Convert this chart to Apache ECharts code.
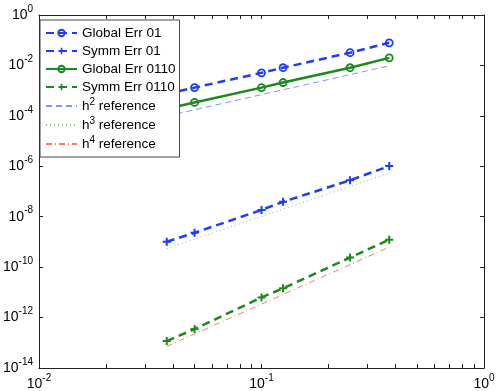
<!DOCTYPE html>
<html>
<head>
<meta charset="utf-8">
<script src="https://cdn.jsdelivr.net/npm/echarts@6/dist/echarts.min.js"></script>
<style>
  html, body { margin: 0; padding: 0; background: #fff; }
  #chart { width: 498px; height: 391px; }
</style>
</head>
<body>
<div id="chart"></div>
<script>
// mesh sizes and errors
var hValues = [0.0375, 0.05, 0.1, 0.125, 0.25, 0.375];
var globalErr01 = [7.4e-4, 1.32e-3, 5.1e-3, 8.1e-3, 0.032, 0.079];
var symmErr01 = [1.02e-9, 2.3e-9, 1.86e-8, 3.9e-8, 2.8e-7, 1.02e-6];
var globalErr0110 = [1.9e-4, 3.4e-4, 1.32e-3, 2.1e-3, 8.1e-3, 0.020];
var symmErr0110 = [1.17e-13, 3.5e-13, 6.3e-12, 1.44e-11, 2.4e-10, 1.23e-9];

// reference slopes (end points only)
var refH = [0.0375, 0.375];
var h2Ref = [9.8e-5, 9.7e-3];
var h3Ref = [5.4e-10, 5.4e-7];
var h4Ref = [7.2e-14, 6.2e-10];

// ticks
var xLabelTicks = [0.01, 0.1, 1];
var xTicks = [0.01, 0.02, 0.03, 0.04, 0.05, 0.06, 0.07, 0.08, 0.09,
  0.1, 0.2, 0.3, 0.4, 0.5, 0.6, 0.7, 0.8, 0.9, 1];
var yTicks = [1e-14, 1e-12, 1e-10, 1e-8, 1e-6, 1e-4, 1e-2, 1];

var BLUE = '#1c3cff';
var GREEN = '#1a8a1a';
var FONT = 'Liberation Sans';
var PLUS = 'path://M3,0h2v3h3v2h-3v3h-2v-3h-3v-2h3z';

function pairs(xs, ys) {
  return xs.map(function (x, i) { return [x, ys[i]]; });
}

function powLabel(v) {
  var e = Math.round(Math.log10(v));
  return '10{sup|' + e + '}';
}

var labelRich = {
  sup: { fontSize: 10, fontFamily: FONT, color: '#000', padding: [0, 0, 12, 0] }
};

function errSeries(name, ys, color, dashed, symbol) {
  return {
    name: name,
    type: 'line',
    data: pairs(hValues, ys),
    lineStyle: { color: color, width: 2.5, type: dashed ? [8, 5] : 'solid' },
    symbol: symbol === 'plus' ? PLUS : 'circle',
    symbolSize: symbol === 'plus' ? 8 : 7,
    itemStyle: symbol === 'plus'
      ? { color: color }
      : { color: 'rgba(255,255,255,0)', borderColor: color, borderWidth: 1.8 },
    color: color,
    z: 3
  };
}

function refSeries(name, ys, color, type) {
  return {
    name: name,
    type: 'line',
    data: pairs(refH, ys),
    symbol: 'circle',
    showSymbol: false,
    color: color,
    itemStyle: { opacity: 0 },
    lineStyle: { color: color, width: 1, type: type },
    z: 2
  };
}

var chart = echarts.init(document.getElementById('chart'));

var option = {
  animation: false,
  backgroundColor: '#fff',
  grid: { left: 35, right: 14, top: 15, bottom: 21 },
  legend: {
    orient: 'vertical',
    left: 40,
    top: 20,
    padding: [5, 4, 5, 5],
    itemGap: 2,
    itemWidth: 31,
    itemHeight: 8,
    backgroundColor: '#fff',
    borderColor: '#444',
    borderWidth: 1,
    textStyle: {
      fontFamily: FONT, fontSize: 13.5, color: '#000', lineHeight: 16,
      rich: { sup: { fontSize: 10, fontFamily: FONT, color: '#000', padding: [0, 0, 8, 0] } }
    },
    formatter: function (name) {
      return name.replace(/^h(\d) /, 'h{sup|$1} ');
    },
    data: ['Global Err 01', 'Symm Err 01', 'Global Err 0110', 'Symm Err 0110',
      'h2 reference', 'h3 reference', 'h4 reference']
  },
  xAxis: [
    {
      type: 'log', min: 0.01, max: 1, position: 'bottom',
      axisLine: { lineStyle: { color: '#222', width: 1 } },
      axisTick: { inside: true, length: 4, customValues: xTicks, lineStyle: { color: '#222' } },
      axisLabel: {
        customValues: xLabelTicks, formatter: powLabel, margin: 5,
        fontFamily: FONT, fontSize: 14, color: '#000', rich: labelRich
      },
      splitLine: { show: false }
    },
    {
      type: 'log', min: 0.01, max: 1, position: 'top',
      axisLine: { lineStyle: { color: '#222', width: 1 } },
      axisTick: { inside: true, length: 4, customValues: xTicks, lineStyle: { color: '#222' } },
      axisLabel: { show: false },
      splitLine: { show: false }
    }
  ],
  yAxis: [
    {
      type: 'log', min: 1e-14, max: 1, position: 'left',
      axisLine: { lineStyle: { color: '#222', width: 1 } },
      axisTick: { inside: true, length: 4, customValues: yTicks, lineStyle: { color: '#222' } },
      axisLabel: {
        customValues: yTicks, formatter: powLabel, margin: 6,
        fontFamily: FONT, fontSize: 14, color: '#000', rich: labelRich
      },
      splitLine: { show: false }
    },
    {
      type: 'log', min: 1e-14, max: 1, position: 'right',
      axisLine: { lineStyle: { color: '#222', width: 1 } },
      axisTick: { inside: true, length: 4, customValues: yTicks, lineStyle: { color: '#222' } },
      axisLabel: { show: false },
      splitLine: { show: false }
    }
  ],
  series: [
    errSeries('Global Err 01', globalErr01, BLUE, true, 'circle'),
    errSeries('Symm Err 01', symmErr01, BLUE, true, 'plus'),
    errSeries('Global Err 0110', globalErr0110, GREEN, false, 'circle'),
    errSeries('Symm Err 0110', symmErr0110, GREEN, true, 'plus'),
    refSeries('h2 reference', h2Ref, '#7b93ff', [6, 4]),
    refSeries('h3 reference', h3Ref, '#77cc77', [1, 3]),
    refSeries('h4 reference', h4Ref, '#ff7a5c', [6, 3, 1, 3])
  ]
};

chart.setOption(option);
</script>
</body>
</html>
